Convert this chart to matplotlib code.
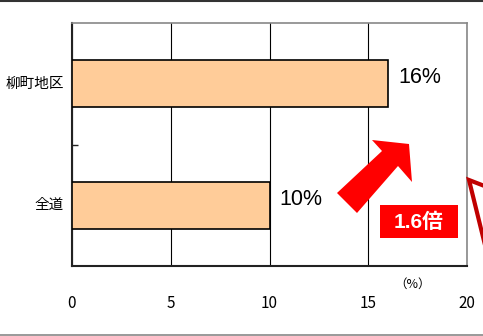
import matplotlib
matplotlib.use("Agg")
import matplotlib.pyplot as plt
from matplotlib.patches import Polygon, Rectangle
from matplotlib.lines import Line2D

categories = ["柳町地区", "全道"]
values = [16, 10]
value_labels = ["16%", "10%"]
xticks = [0, 5, 10, 15, 20]
ratio_label = "1.6倍"
unit_label = "（%）"

plt.rcParams['font.family'] = ['Noto Sans CJK JP', 'DejaVu Sans']

W, H = 483, 336
fig = plt.figure(figsize=(W / 100, H / 100), dpi=100)

def fx(px):
    return px / W

def fy(py):
    return 1 - py / H

ax = fig.add_axes([fx(72), fy(266), fx(467) - fx(72), fy(23) - fy(266)])
ypos = list(range(len(categories)))
ax.barh(ypos, values, height=0.39, color="#FFCC99", edgecolor="black", linewidth=1.2, zorder=3)
ax.set_xlim(0, 20)
ax.set_ylim(len(categories) - 0.5, -0.5)
ax.set_xticks(xticks)
ax.set_xticklabels([str(t) for t in xticks], fontsize=11)
ax.tick_params(axis='x', length=0, pad=21)
ax.set_yticks([0.5])
ax.set_yticklabels([""])
ax.tick_params(axis='y', direction='in', length=4, width=1, color="#222222")
ax.grid(axis='x', color="black", linewidth=0.8, zorder=1)
ax.spines['left'].set_color("#222222")
ax.spines['left'].set_linewidth(1.5)
ax.spines['bottom'].set_color("#222222")
ax.spines['bottom'].set_linewidth(1.5)
ax.spines['top'].set_color("#888888")
ax.spines['top'].set_linewidth(1.2)
ax.spines['right'].set_color("#888888")
ax.spines['right'].set_linewidth(1.2)

for y, v, lab, cat in zip(ypos, values, value_labels, categories):
    ax.text(v + 0.5, y - 0.05, lab, fontsize=15.5, family=['Liberation Sans', 'DejaVu Sans'],
            va='center', ha='left', zorder=4)
    ax.text(-0.4, y, cat, fontsize=10.5, va='center', ha='right')

fig.text(fx(413), fy(284), unit_label, fontsize=9, ha='center', va='center')

# big red arrow
arrow_px = [(337, 193), (357, 213), (398, 166), (412, 182), (409, 144),
            (372, 140), (382, 151)]
fig.patches.append(Polygon([(fx(x), fy(y)) for x, y in arrow_px], closed=True,
                           transform=fig.transFigure, facecolor="#FF0000", edgecolor="none"))

# partial outlined arrow at right edge
part_px = [(469, 180), (500, 192), (485, 245)]
fig.patches.append(Polygon([(fx(x), fy(y)) for x, y in part_px], closed=True,
                           transform=fig.transFigure, facecolor="white",
                           edgecolor="#C00000", linewidth=3))

# 1.6倍 box
fig.patches.append(Rectangle((fx(380), fy(238)), fx(458) - fx(380), fy(205) - fy(238),
                             transform=fig.transFigure, facecolor="#FF0000", edgecolor="none"))
fig.text(fx(419), fy(222), ratio_label, fontsize=15, color="white", fontweight='bold',
         ha='center', va='center', family=['Liberation Sans', 'Noto Sans CJK JP'])

# frame lines
fig.add_artist(Line2D([0, 1], [fy(0.8), fy(0.8)], transform=fig.transFigure, color="#333333", linewidth=1.5))
fig.add_artist(Line2D([0, 1], [fy(334.5), fy(334.5)], transform=fig.transFigure, color="#888888", linewidth=1.2))

fig.savefig("out.png", dpi=100)
